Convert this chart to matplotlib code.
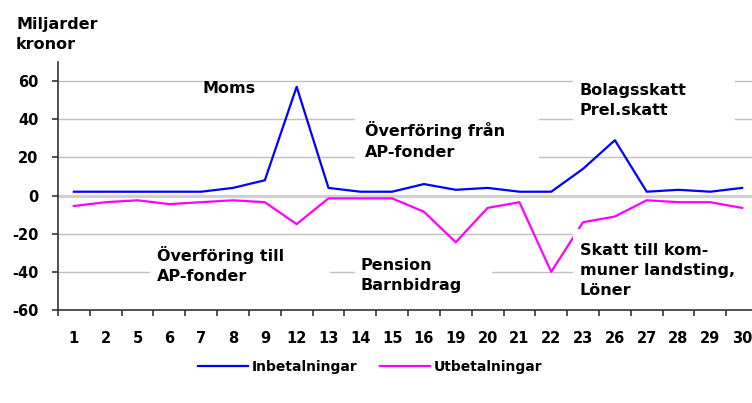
import matplotlib
matplotlib.use('Agg')
import matplotlib.pyplot as plt
from matplotlib.patches import Rectangle
import numpy as np

days = ['1', '2', '5', '6', '7', '8', '9', '12', '13', '14', '15', '16',
        '19', '20', '21', '22', '23', '26', '27', '28', '29', '30']
inbet = [2, 2, 2, 2, 2, 4, 8, 57, 4, 2, 2, 6, 3, 4, 2, 2, 14, 29, 2, 3, 2, 4]
utbet = [-5.5, -3.5, -2.5, -4.5, -3.5, -2.5, -3.5, -15, -1.5, -1.5, -1.5, -8.5,
         -24.5, -6.5, -3.5, -40, -14, -11, -2.5, -3.5, -3.5, -6.5]
ytick_vals = [-60, -40, -20, 0, 20, 40, 60]
series_names = ['Inbetalningar', 'Utbetalningar']

plt.rcParams['font.family'] = ['DejaVu Sans']
plt.rcParams['font.weight'] = 'bold'

fig = plt.figure(figsize=(7.52, 4.03), dpi=100)
ax = fig.add_axes([0.0771, 0.2308, 0.931, 0.6154])

x = np.arange(len(days))
ax.plot(x, inbet, color='#0000ff', lw=1.6, label=series_names[0], zorder=3)
ax.plot(x, utbet, color='#ff00ff', lw=1.6, label=series_names[1], zorder=3)

ax.set_xlim(-0.5, len(days) - 0.5)
ax.set_ylim(-60, 70)
ax.set_yticks(ytick_vals)
ax.set_yticklabels([str(v) for v in ytick_vals], fontsize=10.5, fontweight='bold')
for v in ytick_vals[1:]:
    if v == 0:
        ax.axhline(v, color='#d0d0d0', lw=2.2, zorder=1)
    else:
        ax.axhline(v, color='#c0c0c0', lw=1, zorder=1)

ax.set_xticks(np.arange(len(days) + 1) - 0.5)
ax.set_xticklabels([])
ax.set_xticks(x, minor=True)
ax.set_xticklabels(days, minor=True, fontsize=10.5, fontweight='bold')
ax.tick_params(axis='x', which='major', length=4, width=1.2, color='#333333', direction='out')
ax.tick_params(axis='x', which='minor', length=0, pad=15)
ax.tick_params(axis='y', length=4, width=1.2, color='#333333', pad=10)

for s in ['top', 'right']:
    ax.spines[s].set_visible(False)
for s in ['left', 'bottom']:
    ax.spines[s].set_color('#333333')
    ax.spines[s].set_linewidth(1.2)

# white text boxes (x0, x1, y0, y1) in axis units
boxes = [(8.84, 14.62, 14.2, 43.5),
         (15.69, 20.79, 37.2, 64.5),
         (2.39, 8.05, -49.8, -23.6),
         (8.84, 13.14, -55.0, -28.8),
         (15.69, 21.7, -57.5, -17.3)]
for x0, x1, y0, y1 in boxes:
    ax.add_patch(Rectangle((x0, y0), x1 - x0, y1 - y0, facecolor='white',
                           edgecolor='none', zorder=4, clip_on=True))

kw = dict(fontsize=11.5, fontweight='bold', ha='left', va='center',
          linespacing=1.45, zorder=5)
ax.text(4.03, 56.1, 'Moms', **kw)
ax.text(9.15, 28.8, 'Överföring från\nAP-fonder', **kw)
ax.text(15.9, 49.8, 'Bolagsskatt\nPrel.skatt', **kw)
ax.text(2.6, -36.4, 'Överföring till\nAP-fonder', **kw)
ax.text(9.0, -41.9, 'Pension\nBarnbidrag', **kw)
ax.text(15.9, -39.3, 'Skatt till kom-\nmuner landsting,\nLöner', **kw)

fig.text(16 / 752, 1 - 34.5 / 403, 'Miljarder\nkronor', fontsize=11.5,
         fontweight='bold', ha='left', va='center', linespacing=1.45)

fig.legend(loc='center', bbox_to_anchor=(370 / 752, 1 - 367 / 403), ncol=2,
           frameon=False, handlelength=3.6, handletextpad=0.3, columnspacing=1.6,
           prop={'size': 10, 'weight': 'bold'})

fig.savefig('out.png', dpi=100)
